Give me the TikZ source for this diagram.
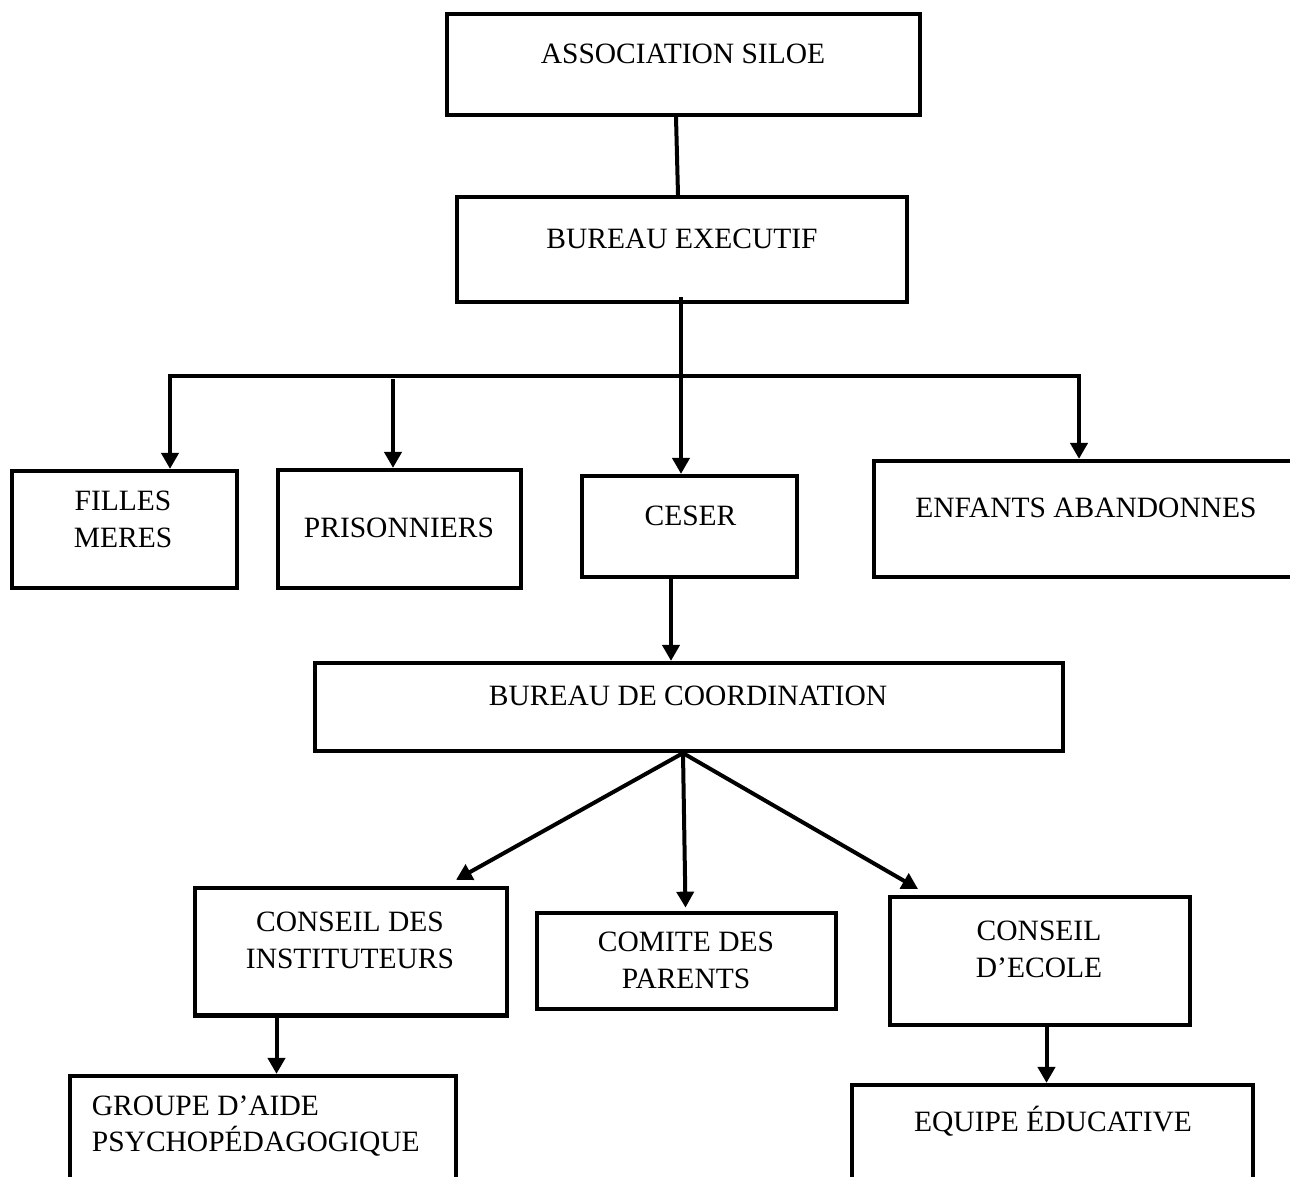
\documentclass[tikz,border=0pt]{standalone}
\usepackage{fontspec}
\setmainfont{Liberation Serif}
\usetikzlibrary{arrows.meta}
\usetikzlibrary{positioning, calc}
\tikzset{
org box/.style = { rectangle, draw = black, fill = none, line width = 4.2pt, inner sep = 0pt },
org text/.style = { draw = none, fill = none, inner sep = 0pt, align = center, anchor = base, font = \fontsize{29.5pt}{36.6pt}\selectfont },
}

\begin{document}
\begin{tikzpicture}[x=1pt, y=-1pt]
    \useasboundingbox (0,0) rectangle (1290,1176);
    \begin{scope}[every node/.style={org box}]
      \node[minimum width=473pt, minimum height=101pt] (assoc) at (683.5,64.5) {};
      \node[minimum width=450pt, minimum height=105pt] (bexec) at (682,249.5) {};
      \node[minimum width=225pt, minimum height=117pt] (filles) at (124.5,529.5) {};
      \node[minimum width=243pt, minimum height=118pt] (prison) at (399.5,529) {};
      \node[minimum width=215pt, minimum height=101pt] (ceser) at (689.5,526.5) {};
      \node[minimum width=426pt, minimum height=116pt] (enfants) at (1087,519) {};
      \node[minimum width=748pt, minimum height=88pt] (bdc) at (689,707) {};
      \node[minimum width=312pt, minimum height=127.5pt] (cdi) at (351,951.7) {};
      \node[minimum width=299pt, minimum height=96.5pt] (comite) at (686.5,961) {};
      \node[minimum width=300pt, minimum height=128pt] (cde) at (1040,961) {};
      \node[minimum width=386pt, minimum height=106pt] (gap) at (263,1129) {};
      \node[minimum width=401pt, minimum height=97pt] (ee) at (1052.5,1133.5) {};
    \end{scope}
    \begin{scope}[every node/.style={org text}]
      \node (t assoc) at (683,63) {ASSOCIATION SILOE};
      \node (t bexec) at (682,248) {BUREAU EXECUTIF};
      \node (t filles) at (123,547) {FILLES\\MERES};
      \node (t prison) at (399,537) {PRISONNIERS};
      \node (t ceser) at (690.5,525) {CESER};
      \node (t enfants) at (1086,517) {ENFANTS ABANDONNES};
      \node (t bdc) at (688,705) {BUREAU DE COORDINATION};
      \node (t cdi) at (350,968.3) {CONSEIL DES\\INSTITUTEURS};
      \node (t comite) at (686,988.3) {COMITE DES\\PARENTS};
      \node (t cde) at (1039,977.3) {CONSEIL\\D’ECOLE};
      \node[align=left, anchor=base west] (t gap) at (91.7,1151.7) {GROUPE D’AIDE\\PSYCHOPÉDAGOGIQUE};
      \node (t ee) at (1053,1131.7) {EQUIPE ÉDUCATIVE};
    \end{scope}
    \begin{scope}[>={Triangle[width=17pt, length=16pt]},
                  every edge/.style={draw=black, line width=4pt}]
      \coordinate (trunk) at ($(bexec.south)+(-1,-7)$);
      \coordinate (bus l) at (170,376);
      \coordinate (bus r) at (1079,376);
      \coordinate (drop p) at (393,379);
      \coordinate (fan) at ($(bdc.south)+(-6,0)$);
      \path [-] ($(assoc.south)+(-7.5,0)$) edge ($(bexec.north)+(-4,0)$);
      \path [-] (trunk) edge (trunk |- bus l);
      \path [-, line cap=rect] (bus l) edge (bus r);
      \path [->] (bus l) edge (bus l |- filles.north);
      \path [->] (drop p) edge (drop p |- prison.north);
      \path [->] (trunk |- bus l) edge (trunk |- ceser.north);
      \path [->] (bus r) edge (bus r |- enfants.north);
      \path [->] ($(ceser.south)+(-18.5,0)$) edge ($(bdc.north)+(-18,0)$);
      \path [->] (fan) edge ($(cdi.north)+(105,-6)$);
      \path [->] (fan) edge ($(comite.north)+(-1,-3)$);
      \path [->] (fan) edge ($(cde.north)+(-122,-6)$);
      \path [->] ($(cdi.south)+(-74.5,0)$) edge ($(gap.north)+(13.5,0)$);
      \path [->] ($(cde.south)+(6.5,0)$) edge ($(ee.north)+(-6,0)$);
    \end{scope}
  \end{tikzpicture}
\end{document}
